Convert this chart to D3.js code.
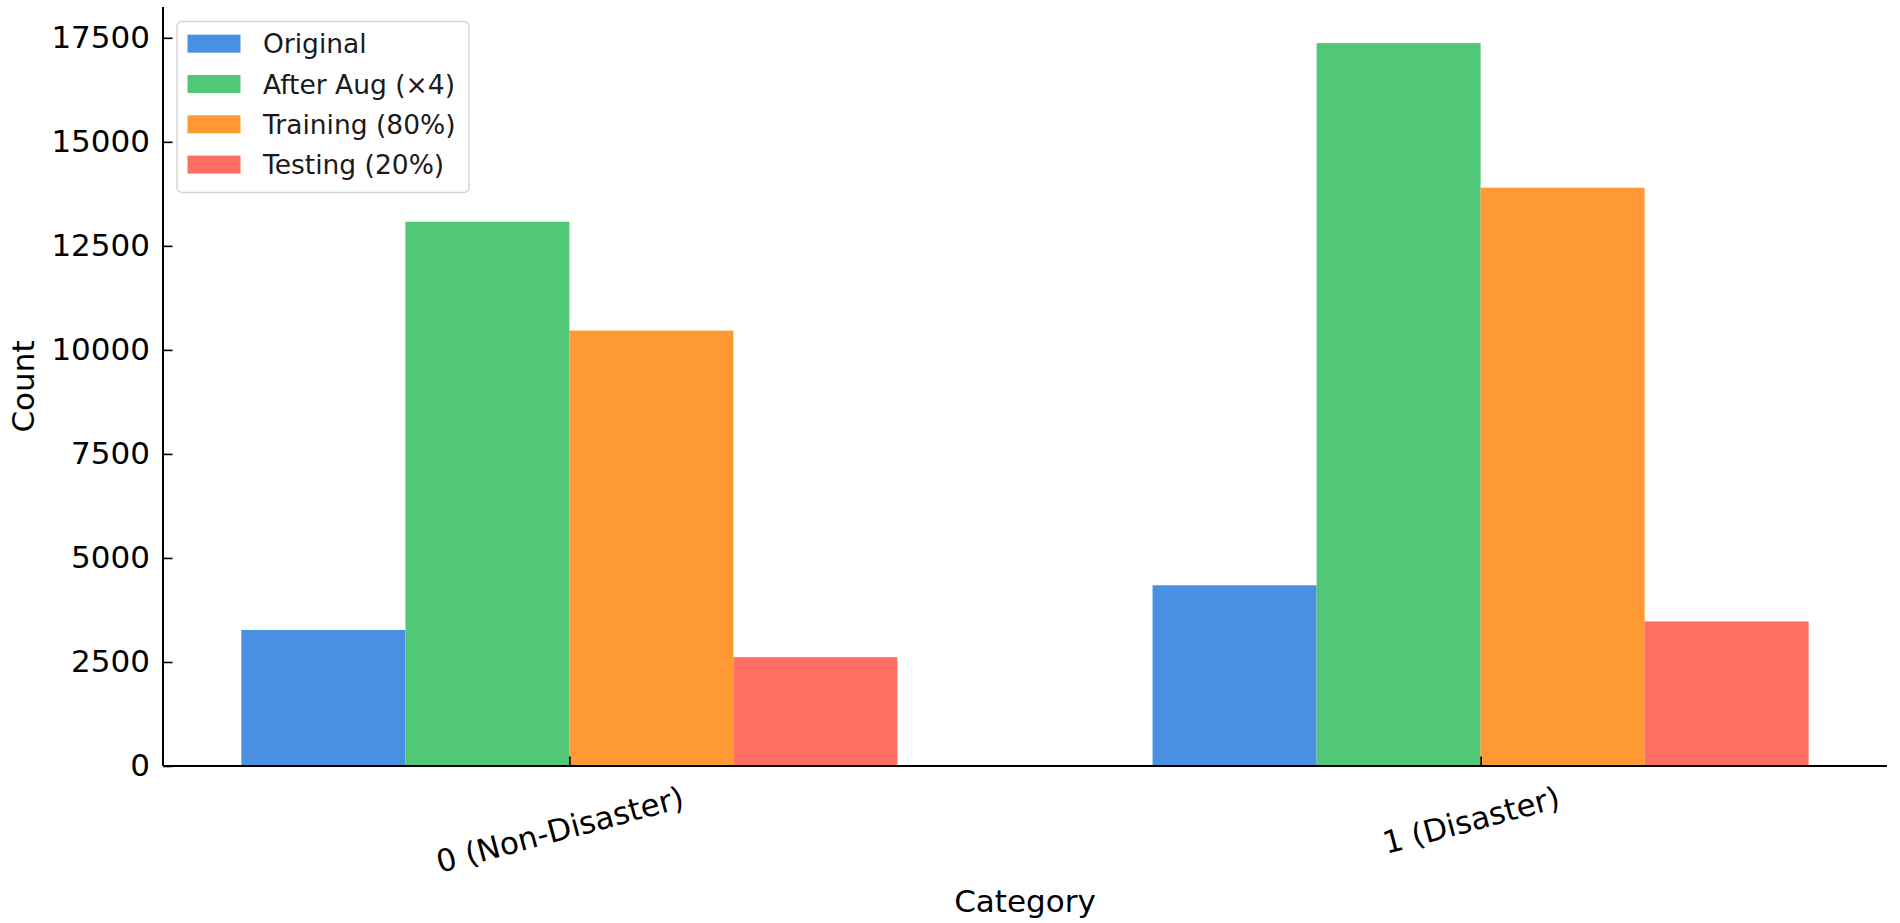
<!DOCTYPE html>
<html>
<head>
<meta charset="utf-8">
<script src="https://cdn.jsdelivr.net/npm/d3@7"></script>
<style>
  html, body { margin: 0; padding: 0; background: #fff; }
  svg { display: block; font-family: "DejaVu Sans", sans-serif; }
</style>
</head>
<body>
<svg id="chart" width="1900" height="923"></svg>
<script>
// ---- data ----
const categories = ["0 (Non-Disaster)", "1 (Disaster)"];
const seriesNames = ["Original", "After Aug (×4)", "Training (80%)", "Testing (20%)"];
const original = [3270, 4343];
const afterAug = [13080, 17372];
const training = [10464, 13898];
const testing = [2616, 3474];
const yTicks = [0, 2500, 5000, 7500, 10000, 12500, 15000, 17500];
const colors = ["#4A90E2", "#50C878", "#FF9933", "#FF6E61"];

const seriesValues = [original, afterAug, training, testing];

(function () {
// ---- layout ----
const svg = d3.select("#chart");
const pLeft = 163, pRight = 1887, pTop = 7, pBottom = 766;
const barW = 0.18;
const n = seriesValues.length;
const xMinData = -n / 2 * barW, xMaxData = (categories.length - 1) + n / 2 * barW;
const xPad = (xMaxData - xMinData) * 0.05;
const x = d3.scaleLinear().domain([xMinData - xPad, xMaxData + xPad]).range([pLeft, pRight]);
const yMax = d3.max(seriesValues.flat()) * 1.05;
const y = d3.scaleLinear().domain([0, yMax]).range([pBottom, pTop]);

// bars
const barData = [];
seriesValues.forEach((vals, j) => {
  vals.forEach((v, i) => {
    barData.push({ i, j, v, pos: i + (j - (n - 1) / 2) * barW });
  });
});
svg.append("g").selectAll("rect").data(barData).enter().append("rect")
  .attr("x", d => x(d.pos - barW / 2))
  .attr("width", d => x(d.pos + barW / 2) - x(d.pos - barW / 2))
  .attr("y", d => y(d.v))
  .attr("height", d => y(0) - y(d.v))
  .attr("fill", d => colors[d.j]);

// y axis
const yAxis = d3.axisLeft(y).tickValues(yTicks).tickFormat(d3.format("d"))
  .tickSizeInner(-9.5).tickSizeOuter(0).tickPadding(13);
const gy = svg.append("g").attr("transform", `translate(${pLeft},0)`).call(yAxis);
gy.select(".domain").attr("stroke", "#000").attr("stroke-width", 2)
  .attr("d", `M0,${pTop}V${pBottom}`);
gy.selectAll(".tick line").attr("stroke", "#000").attr("stroke-width", 1.6);
gy.selectAll(".tick text").attr("font-size", 31).attr("fill", "#000")
  .attr("font-family", "DejaVu Sans");

// x axis
const xAxis = d3.axisBottom(x).tickValues(d3.range(categories.length))
  .tickFormat(i => categories[i]).tickSizeInner(-9.5).tickSizeOuter(0).tickPadding(0);
const gx = svg.append("g").attr("transform", `translate(0,${pBottom})`).call(xAxis);
gx.select(".domain").attr("stroke", "#000").attr("stroke-width", 2)
  .attr("d", `M${pLeft},0H${pRight}`);
gx.selectAll(".tick line").attr("stroke", "#000").attr("stroke-width", 1.6);
const theta = 15 * Math.PI / 180;
gx.selectAll(".tick text")
  .attr("font-size", 31).attr("fill", "#000").attr("font-family", "DejaVu Sans")
  .attr("text-anchor", "middle").attr("dominant-baseline", "central")
  .attr("dy", null)
  .each(function () {
    const t = d3.select(this);
    const w = this.getComputedTextLength();
    const h = 31 * 1.1;
    const cy = 14 + (w * Math.sin(theta) + h * Math.cos(theta)) / 2;
    t.attr("y", 0).attr("transform", `translate(-10,${cy}) rotate(-15)`);
  });

// axis labels
svg.append("text").attr("x", (pLeft + pRight) / 2).attr("y", 901)
  .attr("text-anchor", "middle").attr("dominant-baseline", "central")
  .attr("font-size", 31).attr("fill", "#000").text("Category");
svg.append("text").attr("transform", `translate(23,${(pTop + pBottom) / 2}) rotate(-90)`)
  .attr("text-anchor", "middle").attr("dominant-baseline", "central")
  .attr("font-size", 31).attr("fill", "#000").text("Count");

// legend
const lg = svg.append("g");
lg.append("rect").attr("x", 177).attr("y", 21.5).attr("width", 292).attr("height", 171)
  .attr("rx", 5).attr("fill", "#fff").attr("fill-opacity", 0.8)
  .attr("stroke", "#d6d6d6").attr("stroke-width", 1.5);
seriesNames.forEach((name, j) => {
  const cy = 43.7 + j * 40.3;
  lg.append("rect").attr("x", 187.5).attr("y", cy - 9).attr("width", 53).attr("height", 18)
    .attr("fill", colors[j]);
  lg.append("text").attr("x", 263).attr("y", cy).attr("dominant-baseline", "central")
    .attr("font-size", 26.5).attr("fill", "#1a1a1a").text(name);
});
})();
</script>
</body>
</html>
